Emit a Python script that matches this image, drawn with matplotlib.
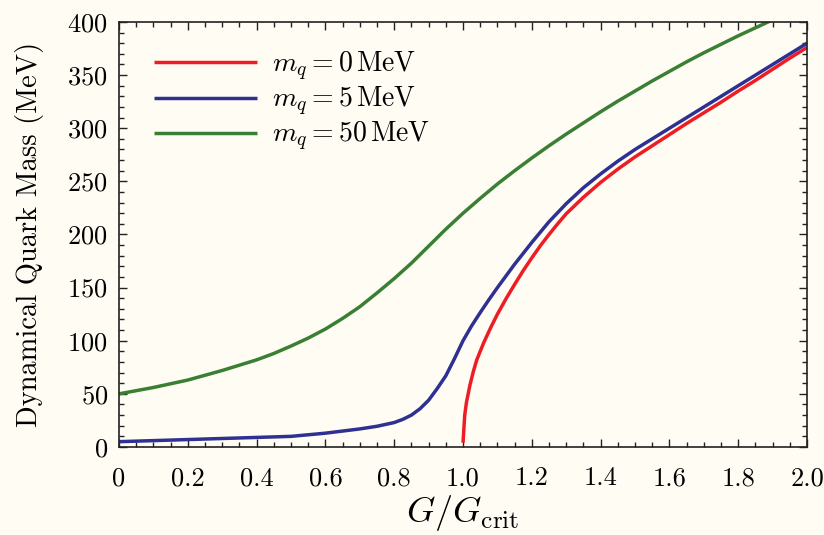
import matplotlib
matplotlib.use("Agg")
import matplotlib.pyplot as plt
from matplotlib.ticker import MultipleLocator

# dynamical quark mass vs coupling, three bare quark masses
g_red = [1.0, 1.005, 1.01, 1.02, 1.03, 1.04, 1.06, 1.08, 1.10, 1.125, 1.15, 1.175,
         1.20, 1.225, 1.25, 1.275, 1.30, 1.35, 1.40, 1.45, 1.50, 1.55, 1.60, 1.65,
         1.70, 1.75, 1.80, 1.85, 1.90, 1.95, 2.00]
m_red = [4, 30, 42, 58, 71, 82, 98, 112, 125, 139.5, 153, 166,
         178, 189.5, 200, 210, 219.5, 235, 249, 261.5, 273, 283.5, 294, 304.5,
         314.5, 324.5, 335, 345, 355.5, 366, 376]

g_blue = [0.0, 0.1, 0.2, 0.3, 0.4, 0.5, 0.55, 0.6, 0.65, 0.7, 0.75, 0.8, 0.825,
          0.85, 0.875, 0.9, 0.925, 0.95, 0.975, 1.0, 1.025, 1.05, 1.075, 1.1,
          1.15, 1.2, 1.25, 1.3, 1.35, 1.4, 1.45, 1.5, 1.6, 1.7, 1.8, 1.9, 2.0]
m_blue = [5, 6, 7, 8, 9, 10, 11.5, 13, 15, 17, 19.5, 23, 26,
          30, 36, 44, 55, 67, 83, 100, 114, 126.5, 138.5, 150,
          172, 192.5, 212, 229, 244, 257, 269, 280, 300, 320, 340, 360, 380]

g_green = [0.0, 0.05, 0.1, 0.15, 0.2, 0.25, 0.3, 0.35, 0.4, 0.45, 0.5, 0.55, 0.6,
           0.65, 0.7, 0.75, 0.8, 0.85, 0.9, 0.95, 1.0, 1.05, 1.1, 1.15, 1.2, 1.25,
           1.3, 1.35, 1.4, 1.45, 1.5, 1.55, 1.6, 1.65, 1.7, 1.75, 1.8, 1.85, 1.9]
m_green = [50, 53, 56, 59.5, 63, 67.5, 72, 77, 82, 88, 95, 102.5, 111,
           121, 132, 145, 158.5, 173, 189, 205, 220, 234, 247.5, 260, 272, 283.5,
           294.5, 305, 315.5, 325.5, 335, 344.5, 353.5, 362.5, 371, 379, 387, 394.5, 402]

labels = [r"$m_q = 0\,\mathrm{MeV}$", r"$m_q = 5\,\mathrm{MeV}$",
          r"$m_q = 50\,\mathrm{MeV}$"]

x_ticks = [0, 0.2, 0.4, 0.6, 0.8, 1.0, 1.2, 1.4, 1.6, 1.8, 2.0]
x_ticklabels = ["0", "0.2", "0.4", "0.6", "0.8", "1.0", "1.2", "1.4", "1.6", "1.8", "2.0"]
y_ticks = [0, 50, 100, 150, 200, 250, 300, 350, 400]

plt.rcParams["font.family"] = "serif"
plt.rcParams["font.serif"] = ["cmr10"]
plt.rcParams["mathtext.fontset"] = "cm"
plt.rcParams["axes.formatter.use_mathtext"] = True

bg = "#fffcf4"
fig = plt.figure(figsize=(8.24, 5.35), dpi=100, facecolor=bg)
ax = fig.add_axes([0.1444, 0.1645, 0.8350, 0.7944])
ax.set_facecolor(bg)

ax.plot(g_red, m_red, color="#ee1d24", lw=2.5, label=labels[0], solid_capstyle="butt")
ax.plot(g_blue, m_blue, color="#2e3192", lw=2.5, label=labels[1], solid_capstyle="butt")
ax.plot(g_green, m_green, color="#3a7f34", lw=2.5, label=labels[2], solid_capstyle="butt")

ax.set_xlim(0, 2.0)
ax.set_ylim(0, 400)
ax.set_xticks(x_ticks)
ax.set_xticklabels(x_ticklabels)
ax.set_yticks(y_ticks)
ax.xaxis.set_minor_locator(MultipleLocator(0.05))
ax.yaxis.set_minor_locator(MultipleLocator(10))
ax.tick_params(which="both", direction="in", top=True, right=True, labelsize=19,
               width=1.0, color="#222222")
ax.tick_params(which="major", length=6)
ax.tick_params(which="minor", length=3.5)
ax.tick_params(axis="x", which="major", pad=14)
ax.tick_params(axis="y", which="major", pad=8)
for s in ax.spines.values():
    s.set_linewidth(1.2)
    s.set_color("#222222")

ax.set_xlabel(r"$G/G_{\rm crit}$", fontsize=26, labelpad=2)
ax.set_ylabel("Dynamical Quark Mass (MeV)", fontsize=20.5, labelpad=17)

ax.legend(loc="upper left", bbox_to_anchor=(0.051, 0.935), frameon=False,
          fontsize=20, handlelength=3.7, handletextpad=0.55, labelspacing=0.07,
          borderpad=0, borderaxespad=0)

fig.savefig("out.png", dpi=100, facecolor=bg)
